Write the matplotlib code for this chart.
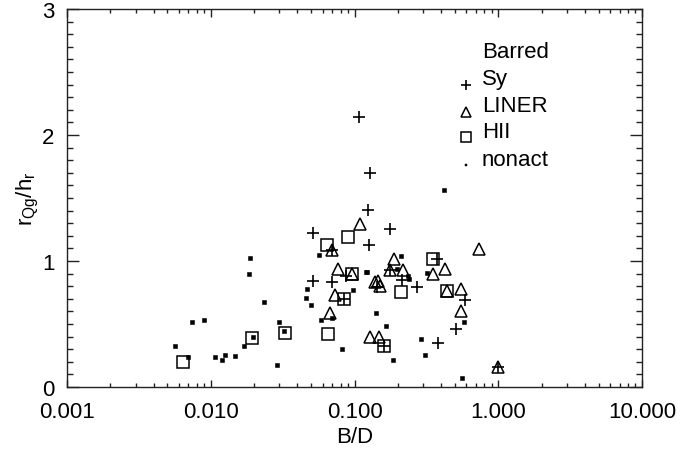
import matplotlib
matplotlib.use("Agg")
import matplotlib.pyplot as plt
from matplotlib.ticker import FixedLocator, FixedFormatter, MultipleLocator, LogLocator, NullFormatter

plt.rcParams['font.family'] = ['Liberation Sans', 'DejaVu Sans']
plt.rcParams['mathtext.fontset'] = 'custom'
plt.rcParams['mathtext.rm'] = 'Liberation Sans'
plt.rcParams['mathtext.it'] = 'Liberation Sans:italic'

# ---------------- data ----------------
sy_bd = [0.108, 0.1288, 0.1233, 0.0514, 0.1777, 0.1267, 0.0696, 0.372, 0.0869, 0.0513,
         0.0696, 0.1425, 0.2133, 0.2717, 0.5875, 0.508, 0.380, 0.1777, 0.0851, 0.1614, 0.992]
sy_r = [2.14, 1.697, 1.408, 1.221, 1.253, 1.129, 1.088, 1.014, 0.880, 0.838,
        0.835, 0.797, 0.849, 0.793, 0.693, 0.457, 0.351, 0.932, 0.697, 0.327, 0.159]

liner_bd = [0.1087, 0.0696, 0.0773, 0.0964, 0.0728, 0.0672, 0.1283, 0.1489, 0.1897, 0.1777,
            0.2158, 0.351, 0.4236, 0.4395, 0.5537, 0.5537, 0.7328, 0.992, 0.138, 0.1496, 0.145]
liner_r = [1.293, 1.088, 0.935, 0.898, 0.731, 0.590, 0.398, 0.398, 1.012, 0.932,
           0.927, 0.898, 0.935, 0.763, 0.775, 0.603, 1.094, 0.159, 0.837, 0.805, 0.845]

hii_bd = [0.0642, 0.0904, 0.0968, 0.0851, 0.0658, 0.1614, 0.211, 0.351, 0.4395,
          0.00637, 0.0193, 0.0331]
hii_r = [1.126, 1.187, 0.900, 0.697, 0.417, 0.327, 0.755, 1.014, 0.763,
         0.197, 0.390, 0.430]

nonact_bd = [0.419, 0.0566, 0.0469, 0.0458, 0.0500, 0.0588, 0.0702, 0.0824, 0.1194, 0.1223,
             0.0979, 0.141, 0.166, 0.1845, 0.288, 0.3105, 0.560, 0.578, 0.209, 0.197,
             0.237, 0.241, 0.319,
             0.0187, 0.0186, 0.0236, 0.00739, 0.00903, 0.00567, 0.00697, 0.01067, 0.0120, 0.0126,
             0.01482, 0.01714, 0.0198, 0.0322, 0.0299, 0.0290]
nonact_r = [1.567, 1.049, 0.775, 0.709, 0.653, 0.534, 0.550, 0.303, 0.914, 0.914,
            0.767, 0.590, 0.488, 0.218, 0.382, 0.251, 0.068, 0.516, 1.038, 0.940,
            0.880, 0.857, 0.906,
            1.025, 0.898, 0.677, 0.512, 0.531, 0.327, 0.237, 0.241, 0.218, 0.257,
            0.247, 0.327, 0.396, 0.444, 0.518, 0.173]

x_ticks = [0.001, 0.01, 0.1, 1.0, 10.0]
x_tick_labels = ["0.001", "0.010", "0.100", "1.000", "10.000"]
y_ticks = [0, 1, 2, 3]
y_tick_labels = ["0", "1", "2", "3"]
legend_title = "Barred"
legend_labels = ["Sy", "LINER", "HII", "nonact"]

# ---------------- figure ----------------
W, H = 691, 452
L, R, T, B = 67, 642, 10, 388
fig = plt.figure(figsize=(W / 100, H / 100), dpi=100)
ax = fig.add_axes([L / W, 1 - B / H, (R - L) / W, (B - T) / H])

fs = 16
ax.plot(nonact_bd, nonact_r, ls='none', marker='s', ms=2.4, color='black', mew=0.4)
ax.plot(sy_bd, sy_r, ls='none', marker='+', ms=8, color='black', mew=1.2)
ax.plot(liner_bd, liner_r, ls='none', marker='^', ms=8.5, mfc='none', mec='black', mew=1.1)
ax.plot(hii_bd, hii_r, ls='none', marker='s', ms=8, mfc='none', mec='black', mew=1.1)

ax.set_xscale('log')
ax.set_xlim(0.001, 10.0)
ax.set_ylim(0, 3)
ax.xaxis.set_major_locator(FixedLocator(x_ticks))
ax.xaxis.set_major_formatter(FixedFormatter(x_tick_labels))
ax.xaxis.set_minor_locator(LogLocator(base=10, subs=range(2, 10), numticks=20))
ax.xaxis.set_minor_formatter(NullFormatter())
ax.yaxis.set_major_locator(FixedLocator(y_ticks))
ax.yaxis.set_major_formatter(FixedFormatter(y_tick_labels))
ax.yaxis.set_minor_locator(MultipleLocator(0.1))

ax.tick_params(axis='both', which='both', direction='in', top=True, right=True,
               color='#222222', width=1.0, labelsize=fs)
ax.tick_params(axis='x', which='major', length=5.4, pad=10)
ax.tick_params(axis='x', which='minor', length=2.7)
ax.tick_params(axis='y', which='major', length=8.3, pad=9)
ax.tick_params(axis='y', which='minor', length=4.1)
for s in ax.spines.values():
    s.set_linewidth(1.0)
    s.set_color('#222222')

ax.set_xlabel("B/D", fontsize=fs)
ax.xaxis.label.set_va('center')
ax.xaxis.set_label_coords(0.5, -(438 - B) / (B - T))
ax.set_ylabel(r"$\mathrm{r_{Qg}/h_r}$", fontsize=fs)
ax.yaxis.label.set_va('center')
ax.yaxis.set_label_coords(-(L - 28) / (R - L), 0.5)

# legend (IDL style)
tx = 482 / W
sx = 466 / W
fig.text(tx, 1 - 52 / H, legend_title, fontsize=fs, va='center', ha='left')
text_y = [80, 107, 132, 160]
sym_y = [86, 113, 138, 166]
sym_kw = [dict(marker='+', ms=6.5, color='black', mew=1.2),
          dict(marker='^', ms=6.5, mfc='none', mec='black', mew=1.1),
          dict(marker='s', ms=6.5, mfc='none', mec='black', mew=1.1),
          dict(marker='s', ms=1.6, color='black', mew=0.3)]
for lab, ty, sy, kw in zip(legend_labels, text_y, sym_y, sym_kw):
    fig.text(tx, 1 - ty / H, lab, fontsize=fs, va='center', ha='left')
    fig.lines.append(plt.Line2D([sx], [1 - sy / H], transform=fig.transFigure, ls='none', **kw))

fig.savefig("out.png", dpi=100)
